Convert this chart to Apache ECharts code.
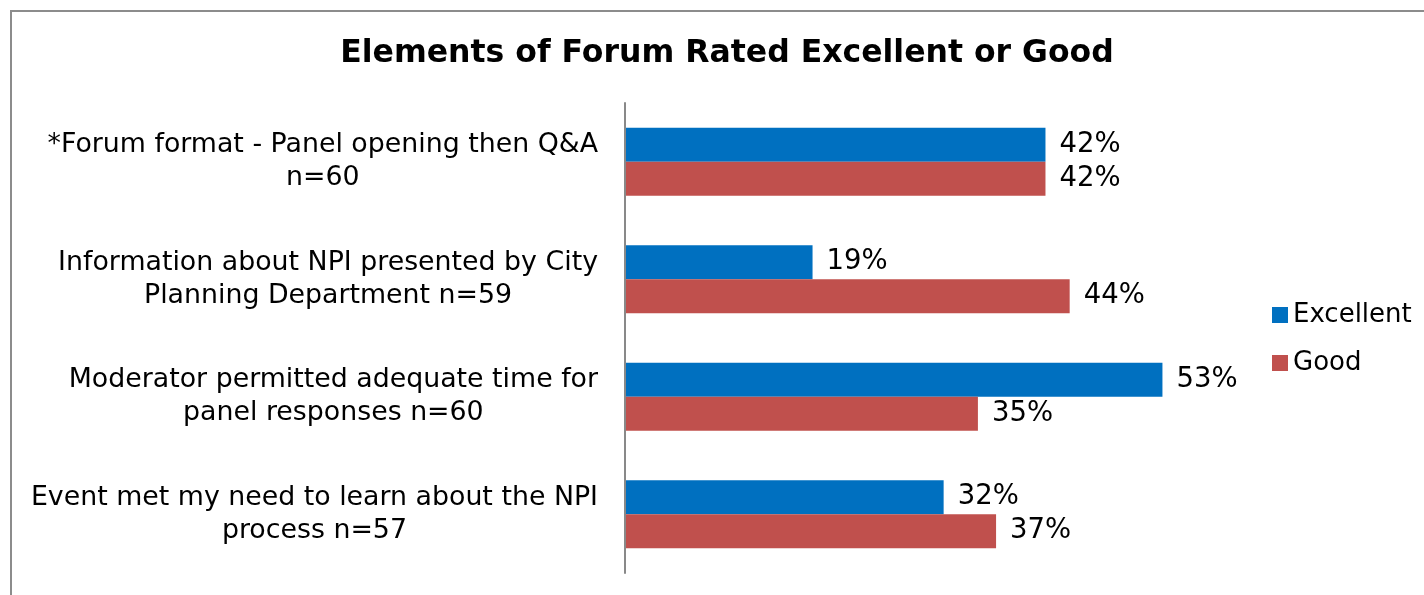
<!DOCTYPE html>
<html>
<head>
<meta charset="utf-8">
<title>Elements of Forum Rated Excellent or Good</title>
<script src="https://cdn.jsdelivr.net/npm/echarts@6/dist/echarts.min.js"></script>
<style>
    html, body { margin: 0; padding: 0; background: #fff; }
    #chart { width: 1424px; height: 595px; }
</style>
</head>
<body>
<div id="chart"></div>
<script>
    // categories, top to bottom as shown
    const categories = [
        "*Forum format - Panel opening then Q&A\nn=60",
        "Information about NPI presented by City\nPlanning Department n=59",
        "Moderator permitted adequate time for\npanel responses n=60",
        "Event met my need to learn about the NPI\nprocess n=57"
    ];
    const legendNames = ["Excellent", "Good"];
    // percent values (labels show them rounded)
    const excellent = [41.7, 18.6, 53.3, 31.6];
    const good = [41.7, 44.1, 35.0, 36.8];

    const FONT = "DejaVu Sans";
    const chart = echarts.init(document.getElementById("chart"));

    const barLabel = {
        show: true,
        position: "right",
        distance: 14,
        color: "#000",
        fontFamily: FONT,
        fontSize: 27.5,
        formatter: p => Math.round(p.value) + "%"
    };

    const option = {
        animation: false,
        color: ["#0070C0", "#C0504D"],
        title: {
            text: "Elements of Forum Rated Excellent or Good",
            left: 722,
            textAlign: "center",
            top: 33,
            textStyle: {
                fontFamily: FONT,
                fontWeight: "bold",
                fontSize: 31.5,
                color: "#000"
            }
        },
        legend: {
            data: legendNames,
            orient: "vertical",
            left: 1267,
            top: 297,
            itemWidth: 16,
            itemHeight: 16,
            itemGap: 22,
            icon: "rect",
            textStyle: { fontFamily: FONT, fontSize: 26, color: "#000" }
        },
        grid: {
            left: 625,
            top: 103,
            width: 605,
            height: 470,
            containLabel: false
        },
        xAxis: {
            type: "value",
            min: 0,
            max: 60,
            show: false
        },
        yAxis: {
            type: "category",
            inverse: true,
            data: categories,
            z: 5,
            axisLine: { show: true, lineStyle: { color: "#898989", width: 2 } },
            axisTick: { show: false },
            splitLine: { show: false },
            axisLabel: {
                margin: 27,
                formatter: v => v.split("\n").map(s => "{c|" + s + "}").join("\n"),
                rich: {
                    c: {
                        align: "center",
                        fontFamily: FONT,
                        fontSize: 26.8,
                        lineHeight: 33,
                        color: "#000"
                    }
                }
            }
        },
        series: [
            {
                name: legendNames[0],
                type: "bar",
                data: excellent,
                barGap: "0%",
                barCategoryGap: "42%",
                label: barLabel
            },
            {
                name: legendNames[1],
                type: "bar",
                data: good,
                label: barLabel
            }
        ],
        graphic: [
            {
                type: "rect",
                silent: true,
                z: -1,
                shape: { x: 11, y: 11, width: 1500, height: 700 },
                style: { fill: "none", stroke: "#8c8c8c", lineWidth: 2 }
            }
        ]
    };

    chart.setOption(option);
</script>
</body>
</html>
